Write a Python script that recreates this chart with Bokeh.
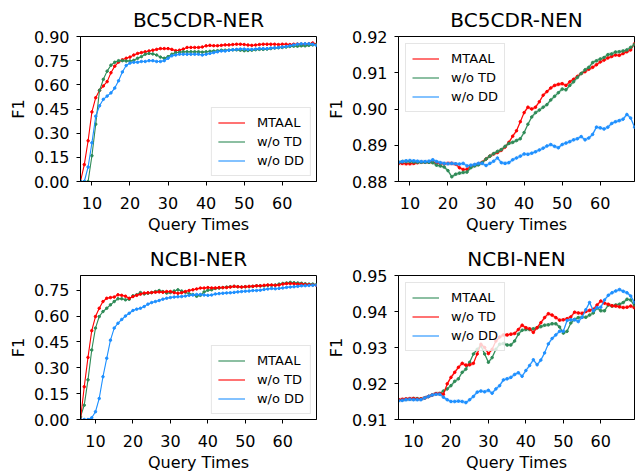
from bokeh.plotting import figure
from bokeh.layouts import column, row
from bokeh.models import Range1d, FixedTicker, NumeralTickFormatter, Legend, LegendItem
from bokeh.embed import file_html
from bokeh.resources import INLINE

# ---------------- data ----------------
x_top = list(range(7, 70))
x_bot = list(range(6, 70))
x_ticks = [10, 20, 30, 40, 50, 60]

titles = ["BC5CDR-NER", "BC5CDR-NEN", "NCBI-NER", "NCBI-NEN"]
x_label = "Query Times"
y_label = "F1"

# BC5CDR-NER
bner_mtaal = [0.0, 0.105, 0.253, 0.432, 0.52, 0.566, 0.593, 0.62, 0.675, 0.716, 0.741, 0.755, 0.765, 0.772,
              0.785, 0.795, 0.80, 0.805, 0.81, 0.815, 0.82, 0.825, 0.825, 0.825, 0.82, 0.812, 0.815, 0.822,
              0.832, 0.832, 0.832, 0.832, 0.835, 0.842, 0.845, 0.843, 0.843, 0.845, 0.848, 0.848, 0.85, 0.852,
              0.852, 0.85, 0.847, 0.845, 0.847, 0.85, 0.852, 0.852, 0.852, 0.852, 0.85, 0.852, 0.852, 0.85,
              0.852, 0.853, 0.852, 0.853, 0.855, 0.86, 0.852]
bner_wotd = [0.0, 0.0, 0.0, 0.16, 0.356, 0.566, 0.634, 0.685, 0.722, 0.74, 0.75, 0.75, 0.748, 0.748, 0.752,
             0.765, 0.775, 0.79, 0.795, 0.792, 0.785, 0.772, 0.765, 0.775, 0.79, 0.80, 0.802, 0.805, 0.805,
             0.805, 0.805, 0.805, 0.803, 0.805, 0.808, 0.81, 0.812, 0.815, 0.815, 0.815, 0.817, 0.817, 0.815,
             0.812, 0.813, 0.815, 0.818, 0.82, 0.82, 0.822, 0.825, 0.828, 0.83, 0.832, 0.835, 0.838, 0.84,
             0.84, 0.842, 0.842, 0.845, 0.848, 0.85]
bner_wodd = [0.0, 0.0, 0.09, 0.24, 0.405, 0.47, 0.51, 0.53, 0.55, 0.58, 0.625, 0.68, 0.72, 0.735, 0.74, 0.74,
             0.745, 0.745, 0.75, 0.75, 0.745, 0.745, 0.75, 0.765, 0.78, 0.785, 0.79, 0.79, 0.79, 0.79, 0.79,
             0.79, 0.785, 0.79, 0.795, 0.80, 0.805, 0.81, 0.81, 0.815, 0.818, 0.82, 0.822, 0.822, 0.82, 0.82,
             0.822, 0.825, 0.825, 0.825, 0.828, 0.83, 0.832, 0.835, 0.838, 0.842, 0.848, 0.852, 0.855, 0.855,
             0.855, 0.852, 0.845]

# BC5CDR-NEN
bnen_mtaal = [0.8850, 0.8850, 0.8849, 0.8849, 0.8850, 0.8852, 0.8853, 0.8853, 0.8853, 0.8853, 0.8852, 0.8850,
              0.8849, 0.8850, 0.8850, 0.8848, 0.8838, 0.8833, 0.8834, 0.8842, 0.8845, 0.8848, 0.8853, 0.8862,
              0.8870, 0.8876, 0.8880, 0.8886, 0.8895, 0.8908, 0.8925, 0.8940, 0.8965, 0.8990, 0.9005, 0.9000,
              0.9005, 0.9020, 0.9038, 0.9048, 0.9058, 0.9065, 0.9068, 0.9070, 0.9065, 0.9075, 0.9082, 0.9090,
              0.9098, 0.9103, 0.9110, 0.9115, 0.9122, 0.9130, 0.9135, 0.9141, 0.9145, 0.9149, 0.9148, 0.9153,
              0.9158, 0.9163, 0.9180]
bnen_wotd = [0.8853, 0.8855, 0.8855, 0.8855, 0.8854, 0.8853, 0.8853, 0.8853, 0.8853, 0.8852, 0.8845, 0.8843,
             0.8840, 0.8830, 0.8813, 0.8820, 0.8823, 0.8825, 0.8826, 0.8838, 0.8843, 0.8846, 0.8852, 0.8862,
             0.8870, 0.8877, 0.8883, 0.8888, 0.8897, 0.8905, 0.8908, 0.8913, 0.8918, 0.8935, 0.8958, 0.8978,
             0.8990, 0.8997, 0.9005, 0.9012, 0.9025, 0.9035, 0.9045, 0.9055, 0.9053, 0.9065, 0.9075, 0.9087,
             0.9098, 0.9108, 0.9115, 0.9128, 0.9133, 0.9138, 0.9142, 0.9150, 0.9152, 0.9157, 0.9158, 0.9160,
             0.9163, 0.9170, 0.9178]
bnen_wodd = [0.8853, 0.8855, 0.8857, 0.8858, 0.8857, 0.8856, 0.8855, 0.8855, 0.8856, 0.8860, 0.8855, 0.8852,
             0.8850, 0.8849, 0.8850, 0.8849, 0.8848, 0.8850, 0.8843, 0.8845, 0.8847, 0.8850, 0.8850, 0.8844,
             0.8850, 0.8856, 0.8865, 0.8852, 0.8850, 0.8852, 0.8860, 0.8865, 0.8870, 0.8876, 0.8875, 0.8878,
             0.8882, 0.8887, 0.8892, 0.8898, 0.8902, 0.8897, 0.8893, 0.8902, 0.8906, 0.8910, 0.8915, 0.8918,
             0.8924, 0.8915, 0.8920, 0.8930, 0.8950, 0.8948, 0.8945, 0.8950, 0.8960, 0.8965, 0.8968, 0.8972,
             0.8985, 0.8975, 0.8950]

# NCBI-NER
nner_mtaal = [0.015, 0.083, 0.23, 0.403, 0.53, 0.597, 0.626, 0.645, 0.665, 0.684, 0.70, 0.70, 0.694, 0.697,
              0.717, 0.723, 0.736, 0.728, 0.732, 0.736, 0.742, 0.748, 0.742, 0.733, 0.736, 0.745, 0.752, 0.745,
              0.738, 0.729, 0.725, 0.715, 0.72, 0.74, 0.75, 0.752, 0.76, 0.762, 0.765, 0.768, 0.77, 0.772,
              0.77, 0.768, 0.77, 0.77, 0.772, 0.775, 0.775, 0.775, 0.778, 0.778, 0.78, 0.785, 0.789, 0.792,
              0.795, 0.793, 0.792, 0.79, 0.787, 0.785, 0.785, 0.782]
nner_wotd = [0.0, 0.19, 0.36, 0.515, 0.597, 0.645, 0.684, 0.703, 0.707, 0.71, 0.723, 0.72, 0.715, 0.703, 0.713,
             0.72, 0.727, 0.733, 0.735, 0.736, 0.738, 0.74, 0.738, 0.742, 0.742, 0.735, 0.732, 0.735, 0.742,
             0.748, 0.752, 0.757, 0.762, 0.762, 0.765, 0.763, 0.763, 0.765, 0.765, 0.765, 0.768, 0.772, 0.77,
             0.768, 0.77, 0.772, 0.772, 0.775, 0.775, 0.778, 0.78, 0.78, 0.778, 0.78, 0.785, 0.788, 0.789,
             0.787, 0.785, 0.785, 0.783, 0.782, 0.78, 0.778]
nner_wodd = [0.0, 0.0, 0.0, 0.01, 0.045, 0.122, 0.248, 0.355, 0.46, 0.53, 0.558, 0.58, 0.60, 0.616, 0.632,
             0.64, 0.645, 0.655, 0.669, 0.678, 0.684, 0.69, 0.698, 0.703, 0.707, 0.71, 0.712, 0.713, 0.716,
             0.72, 0.722, 0.725, 0.725, 0.722, 0.72, 0.722, 0.728, 0.73, 0.732, 0.734, 0.735, 0.737, 0.74,
             0.742, 0.744, 0.745, 0.748, 0.748, 0.75, 0.754, 0.757, 0.76, 0.758, 0.76, 0.763, 0.766, 0.768,
             0.77, 0.772, 0.775, 0.776, 0.777, 0.778, 0.779]

# NCBI-NEN
nnen_mtaal = [0.9155, 0.9155, 0.9156, 0.9157, 0.9158, 0.9158, 0.9157, 0.9160, 0.9164, 0.9168, 0.9172, 0.9172,
              0.9179, 0.9185, 0.9194, 0.9206, 0.9213, 0.9231, 0.9240, 0.9259, 0.9282, 0.9295, 0.9305, 0.9282,
              0.9259, 0.9272, 0.9295, 0.9309, 0.9311, 0.9307, 0.9307, 0.9318, 0.9337, 0.9348, 0.9350, 0.9350,
              0.9352, 0.9355, 0.9358, 0.9362, 0.9363, 0.9366, 0.9366, 0.9357, 0.9340, 0.9345, 0.9368, 0.9378,
              0.9383, 0.9384, 0.9384, 0.9390, 0.9396, 0.9410, 0.9402, 0.9402, 0.9418, 0.9415, 0.9418, 0.9420,
              0.9425, 0.9434, 0.9432, 0.9415]
nnen_wotd = [0.9155, 0.9156, 0.9157, 0.9158, 0.9158, 0.9157, 0.9157, 0.9160, 0.9164, 0.9168, 0.9172, 0.9172,
             0.9170, 0.9199, 0.9217, 0.9231, 0.9245, 0.9256, 0.9251, 0.9252, 0.9256, 0.9282, 0.9309, 0.9300,
             0.9283, 0.9295, 0.9318, 0.9329, 0.9335, 0.9335, 0.9337, 0.9339, 0.9350, 0.9362, 0.9355, 0.9352,
             0.9342, 0.9355, 0.9369, 0.9383, 0.9394, 0.9390, 0.9383, 0.9376, 0.9377, 0.9380, 0.9385, 0.9398,
             0.9396, 0.9395, 0.9400, 0.9403, 0.9406, 0.9418, 0.9429, 0.9423, 0.9420, 0.9416, 0.9415, 0.9413,
             0.9411, 0.9412, 0.9415, 0.9410]
nnen_wodd = [0.9152, 0.9153, 0.9155, 0.9156, 0.9155, 0.9155, 0.9155, 0.9160, 0.9164, 0.9168, 0.9170, 0.9170,
             0.9162, 0.9155, 0.9150, 0.9150, 0.9151, 0.9150, 0.9147, 0.9155, 0.9164, 0.9176, 0.9179, 0.9177,
             0.9181, 0.9173, 0.9185, 0.9194, 0.9210, 0.9213, 0.9217, 0.9225, 0.9230, 0.9220, 0.9236, 0.9250,
             0.9266, 0.9252, 0.9265, 0.9285, 0.9310, 0.9325, 0.9335, 0.9345, 0.9345, 0.9375, 0.9377, 0.9377,
             0.9372, 0.9384, 0.9405, 0.9425, 0.9402, 0.9411, 0.9412, 0.9432, 0.9445, 0.9452, 0.9457, 0.9461,
             0.9456, 0.9452, 0.9443, 0.9425]

# spread of the shaded band around each curve
band_ner = 0.004
band_nen = 0.0005

RED = "#ff0000"
GREEN = "#2e8b57"
BLUE = "#1e90ff"
FONT = "DejaVu Sans"


def style_axis(ax, label_standoff):
    ax.major_tick_in = 0
    ax.major_tick_out = 4
    ax.minor_tick_in = 0
    ax.minor_tick_out = 0
    ax.major_tick_line_color = "black"
    ax.axis_line_color = "black"
    ax.major_label_text_font = FONT
    ax.major_label_text_font_size = "16px"
    ax.major_label_text_color = "black"
    ax.axis_label_text_font = FONT
    ax.axis_label_text_font_size = "16px"
    ax.axis_label_text_font_style = "normal"
    ax.axis_label_text_color = "black"
    ax.major_label_standoff = label_standoff
    ax.axis_label_standoff = 3


def panel(title, xs, series, yrange, yticks, legend_loc, legend_margin, band, w, h, bl, br, bt, bb):
    p = figure(width=w, height=h, output_backend="svg", toolbar_location=None,
               x_range=Range1d(xs[0], xs[-1]), y_range=Range1d(yrange[0], yrange[1]),
               min_border_left=bl, min_border_right=br, min_border_top=bt, min_border_bottom=bb)
    p.title.text = title
    p.title.align = "center"
    p.title.text_font = FONT
    p.title.text_font_size = "20px"
    p.title.text_font_style = "normal"
    p.title.text_color = "black"
    p.title.standoff = 10
    p.xgrid.visible = False
    p.ygrid.visible = False
    p.outline_line_color = "black"
    p.outline_line_alpha = 1.0
    p.outline_line_width = 1
    p.background_fill_color = "white"
    p.border_fill_color = "white"
    p.xaxis.ticker = FixedTicker(ticks=x_ticks)
    p.yaxis.ticker = FixedTicker(ticks=yticks)
    p.yaxis.formatter = NumeralTickFormatter(format="0.00")
    p.xaxis.axis_label = x_label
    p.yaxis.axis_label = y_label
    style_axis(p.xaxis[0], 11)
    style_axis(p.yaxis[0], 7)

    items = []
    for name, ys, color in series:
        lo = [v - band for v in ys]
        hi = [v + band for v in ys]
        p.varea(x=xs, y1=lo, y2=hi, fill_color=color, fill_alpha=0.28)
        ln = p.line(xs, ys, line_color=color, line_width=1.1)
        p.scatter(xs, ys, size=2.5, fill_color=color, line_color=color)
        items.append(LegendItem(label=name, renderers=[ln]))
    lg = Legend(items=items, location=legend_loc)
    lg.label_text_font = FONT
    lg.label_text_font_size = "13px"
    lg.label_text_color = "black"
    lg.glyph_width = 27
    lg.glyph_height = 17
    lg.label_height = 17
    lg.spacing = 2
    lg.padding = 6
    lg.margin = legend_margin
    lg.label_standoff = 12
    lg.border_line_color = "#cccccc"
    lg.border_line_width = 1
    lg.background_fill_alpha = 0.8
    p.add_layout(lg)
    return p


names_top = ["MTAAL", "w/o TD", "w/o DD"]
names_bot = ["MTAAL", "w/o TD", "w/o DD"]

p1 = panel(titles[0], x_top,
           [(names_top[0], bner_mtaal, RED), (names_top[1], bner_wotd, GREEN), (names_top[2], bner_wodd, BLUE)],
           (0.0, 0.90), [0.0, 0.15, 0.30, 0.45, 0.60, 0.75, 0.90], "bottom_right", 5, band_ner,
           318, 237, 80, 2, 35, 56)
p2 = panel(titles[1], x_top,
           [(names_top[0], bnen_mtaal, RED), (names_top[1], bnen_wotd, GREEN), (names_top[2], bnen_wodd, BLUE)],
           (0.88, 0.92), [0.88, 0.89, 0.90, 0.91, 0.92], "top_left", 7, band_nen,
           318, 237, 80, 2, 35, 56)
p3 = panel(titles[2], x_bot,
           [(names_bot[0], nner_mtaal, GREEN), (names_bot[1], nner_wotd, RED), (names_bot[2], nner_wodd, BLUE)],
           (0.0, 0.835), [0.0, 0.15, 0.30, 0.45, 0.60, 0.75], "bottom_right", 5, band_ner,
           318, 237, 80, 2, 38, 54)
p4 = panel(titles[3], x_bot,
           [(names_bot[0], nnen_mtaal, GREEN), (names_bot[1], nnen_wotd, RED), (names_bot[2], nnen_wodd, BLUE)],
           (0.91, 0.95), [0.91, 0.92, 0.93, 0.94, 0.95], "top_left", 7, band_nen,
           318, 237, 80, 2, 38, 54)

layout = column(row(p1, p2, spacing=0), row(p3, p4, spacing=0), spacing=0)

open("out.html", "w").write(file_html(layout, INLINE))
